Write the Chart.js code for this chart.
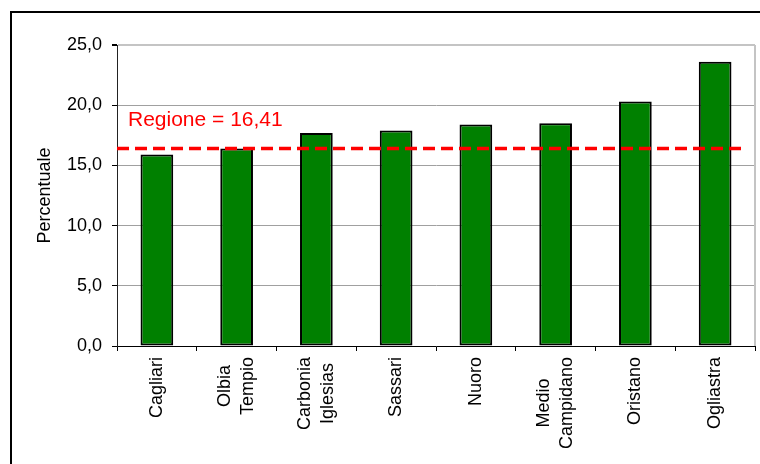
<!DOCTYPE html>
<html>
<head>
<meta charset="utf-8">
<title>Percentuale per provincia</title>
<script src="https://cdn.jsdelivr.net/npm/chart.js@4"></script>
<style>
  html, body { margin: 0; padding: 0; background: #fff; overflow: hidden; }
  #wrap { position: relative; width: 760px; height: 464px; }
  #frame {
    position: absolute; left: 10px; top: 11px; width: 800px; height: 500px;
    border-left: 2px solid #000; border-top: 2px solid #000;
  }
  #myChart { position: absolute; left: 0; top: 0; }
</style>
</head>
<body>
<div id="wrap">
  <div id="frame"></div>
  <canvas id="myChart" width="760" height="464"></canvas>
</div>
<script>
// Provinces and their percentages
const province = ['Cagliari', ['Olbia', 'Tempio'], ['Carbonia', 'Iglesias'], 'Sassari', 'Nuoro', ['Medio', 'Campidano'], 'Oristano', 'Ogliastra'];
const percentuali = [15.9, 16.4, 17.7, 17.9, 18.4, 18.5, 20.3, 23.6];

// Regional reference value
const regione = 16.41;

// Y axis ticks
const yTicks = [0, 5, 10, 15, 20, 25];

const fontFamily = "'Liberation Sans', Arial, sans-serif";

// Italian number format, e.g. 16,41
const fmt = (v, d) => v.toFixed(d).replace('.', ',');

// Light gray right edge of the plot area
const plotFrame = {
    id: 'plotFrame',
    beforeDatasetsDraw(chart) {
        const {ctx, chartArea: a} = chart;
        ctx.save();
        ctx.strokeStyle = '#c4c4c4';
        ctx.lineWidth = 2;
        ctx.beginPath();
        ctx.moveTo(a.right, a.top);
        ctx.lineTo(a.right, a.bottom);
        ctx.stroke();
        ctx.restore();
    }
};

// Dashed red line for the regional value, with its label
const regionLine = {
    id: 'regionLine',
    afterDatasetsDraw(chart) {
        const {ctx, chartArea: a} = chart;
        const y = chart.scales.y.getPixelForValue(regione);
        ctx.save();
        ctx.strokeStyle = '#ff0000';
        ctx.lineWidth = 3.5;
        ctx.setLineDash([12, 6]);
        ctx.beginPath();
        ctx.moveTo(a.left, y);
        ctx.lineTo(a.right - 12, y);
        ctx.stroke();
        ctx.setLineDash([]);
        ctx.fillStyle = '#ff0000';
        ctx.font = '21px ' + fontFamily;
        ctx.textAlign = 'left';
        ctx.textBaseline = 'alphabetic';
        ctx.fillText('Regione = ' + fmt(regione, 2), a.left + 11, y - 22);
        ctx.restore();
    }
};

// Vertical category labels, lines centred on each other
const verticalLabels = {
    id: 'verticalLabels',
    afterDraw(chart) {
        const {ctx} = chart;
        const xs = chart.scales.x;
        const top = xs.top + 11;
        const lineH = 22.5;
        ctx.save();
        ctx.font = '18px ' + fontFamily;
        ctx.fillStyle = '#000';
        ctx.textAlign = 'center';
        ctx.textBaseline = 'middle';
        province.forEach((lab, i) => {
            const lines = Array.isArray(lab) ? lab : [lab];
            const maxW = Math.max(...lines.map(l => ctx.measureText(l).width));
            const x = xs.getPixelForValue(i);
            ctx.save();
            ctx.translate(x, top);
            ctx.rotate(-Math.PI / 2);
            lines.forEach((l, j) => {
                ctx.fillText(l, -maxW / 2, (j - (lines.length - 1) / 2) * lineH);
            });
            ctx.restore();
        });
        ctx.restore();
    }
};

const myChart = document.getElementById('myChart');

let barChart = new Chart(myChart, {
    type: 'bar',
    data: {
        labels: province,
        datasets: [{
            label: 'Percentuale',
            data: percentuali,
            backgroundColor: '#008000',
            borderColor: '#000',
            borderWidth: 2,
            borderSkipped: false,
            barPercentage: 0.41,
            categoryPercentage: 1
        }]
    },
    options: {
        responsive: false,
        animation: false,
        layout: {
            padding: {top: 45, right: 5, left: 0, bottom: 0}
        },
        scales: {
            x: {
                afterFit: s => { s.height = 118; },
                ticks: {display: false},
                grid: {
                    drawOnChartArea: false,
                    tickLength: 5,
                    tickColor: '#000'
                },
                border: {color: '#000', width: 1}
            },
            y: {
                min: 0,
                max: 25,
                afterFit: s => { s.width = 117; },
                afterBuildTicks: s => { s.ticks = yTicks.map(v => ({value: v})); },
                title: {
                    display: true,
                    text: 'Percentuale',
                    color: '#000',
                    font: {family: fontFamily, size: 18},
                    padding: {top: 34, bottom: 0}
                },
                ticks: {
                    color: '#000',
                    padding: 10,
                    font: {family: fontFamily, size: 18},
                    callback: v => fmt(v, 1)
                },
                grid: {
                    color: ctx => ctx.tick && ctx.tick.value === 25 ? '#c4c4c4' : '#a0a0a0',
                    lineWidth: ctx => ctx.tick && ctx.tick.value === 25 ? 2 : 1,
                    tickLength: 5,
                    tickColor: '#000'
                },
                border: {color: '#222', width: 1}
            }
        },
        plugins: {
            legend: {display: false},
            tooltip: {enabled: false}
        }
    },
    plugins: [plotFrame, regionLine, verticalLabels]
});
</script>
</body>
</html>
